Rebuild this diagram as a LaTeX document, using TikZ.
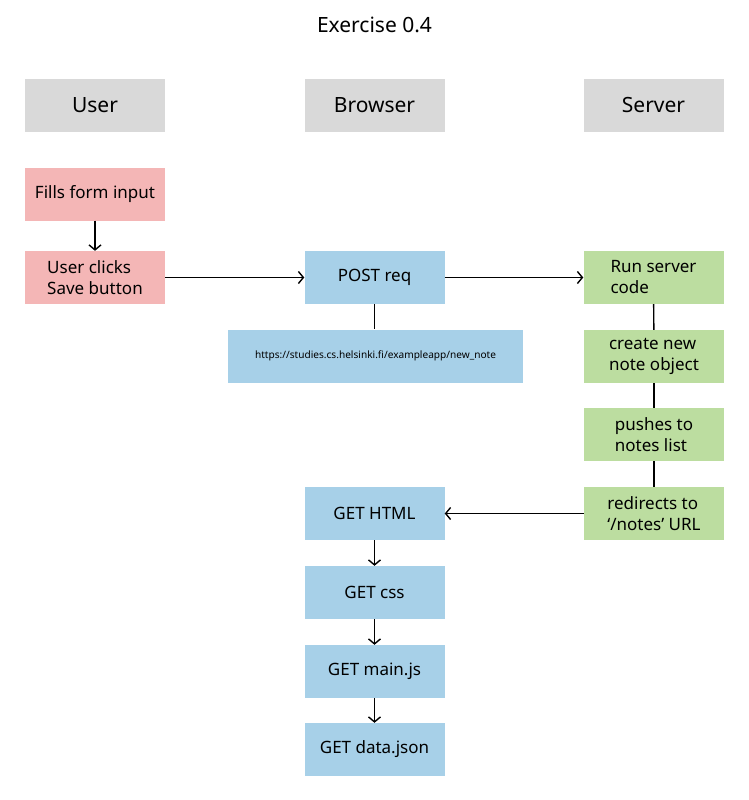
\documentclass[tikz,border=0pt]{standalone}
\usepackage{fontspec}
\setmainfont{Noto Sans}
\usetikzlibrary{arrows.meta}
\definecolor{hdr}{HTML}{D9D9D9}
\definecolor{usr}{HTML}{F4B6B6}
\definecolor{brw}{HTML}{A7D0E8}
\definecolor{srv}{HTML}{BCDDA0}
\tikzset{
  box/.style={minimum width=140pt, minimum height=53pt, inner sep=0pt, align=left, font=\fontsize{17}{21}\selectfont},
  hbox/.style={box, fill=hdr, font=\fontsize{21}{25}\selectfont},
  ubox/.style={box, fill=usr},
  bbox/.style={box, fill=brw},
  sbox/.style={box, fill=srv},
  conn/.style={line width=1.4pt, black},
  arr/.style={conn, -{Straight Barb[length=5pt, width=12pt, line width=1.4pt]}}
}
\begin{document}
\begin{tikzpicture}[x=1pt, y=-1pt]
\useasboundingbox (0,0) rectangle (749,800);
\node[font=\fontsize{21}{25}\selectfont] (title) at (374.5,25) {Exercise 0.4};
\node[hbox] (huser) at (95,105.5) {User};
\node[hbox] (hbrowser) at (374.5,105.5) {Browser};
\node[hbox] (hserver) at (653.5,105.5) {Server};
\node[ubox] (fills) at (95,194) {Fills form input};
\node[ubox] (clicks) at (95,277.5) {User clicks\\Save button};
\node[bbox] (post) at (374.5,277.5) {POST req};
\node[bbox, minimum width=295pt, font=\fontsize{10.1}{12}\selectfont] (url) at (375.5,356) {https://studies.cs.helsinki.fi/exampleapp/new\_note};
\node[sbox] (run) at (653.5,277.5) {Run server\\code};
\node[sbox] (create) at (654,356.5) {create new\\note object};
\node[sbox] (push) at (654,434.5) {pushes to\\notes list};
\node[sbox] (redir) at (654,513.5) {redirects to\\‘/notes’ URL};
\node[bbox] (html) at (374.5,513.5) {GET HTML};
\node[bbox] (css) at (374.5,592.5) {GET css};
\node[bbox] (mainjs) at (374.5,671.5) {GET main.js};
\node[bbox] (data) at (374.5,749.5) {GET data.json};
\draw[arr] (fills) -- (clicks);
\draw[arr] (clicks) -- (post);
\draw[arr] (post) -- (run);
\draw[conn] (post.south) -- (url.north -| post.south);
\draw[conn] (run) -- (create);
\draw[conn] (create) -- (push);
\draw[conn] (push) -- (redir);
\draw[arr] (redir) -- (html);
\draw[arr] (html) -- (css);
\draw[arr] (css) -- (mainjs);
\draw[arr] (mainjs) -- (data);
\end{tikzpicture}
\end{document}
